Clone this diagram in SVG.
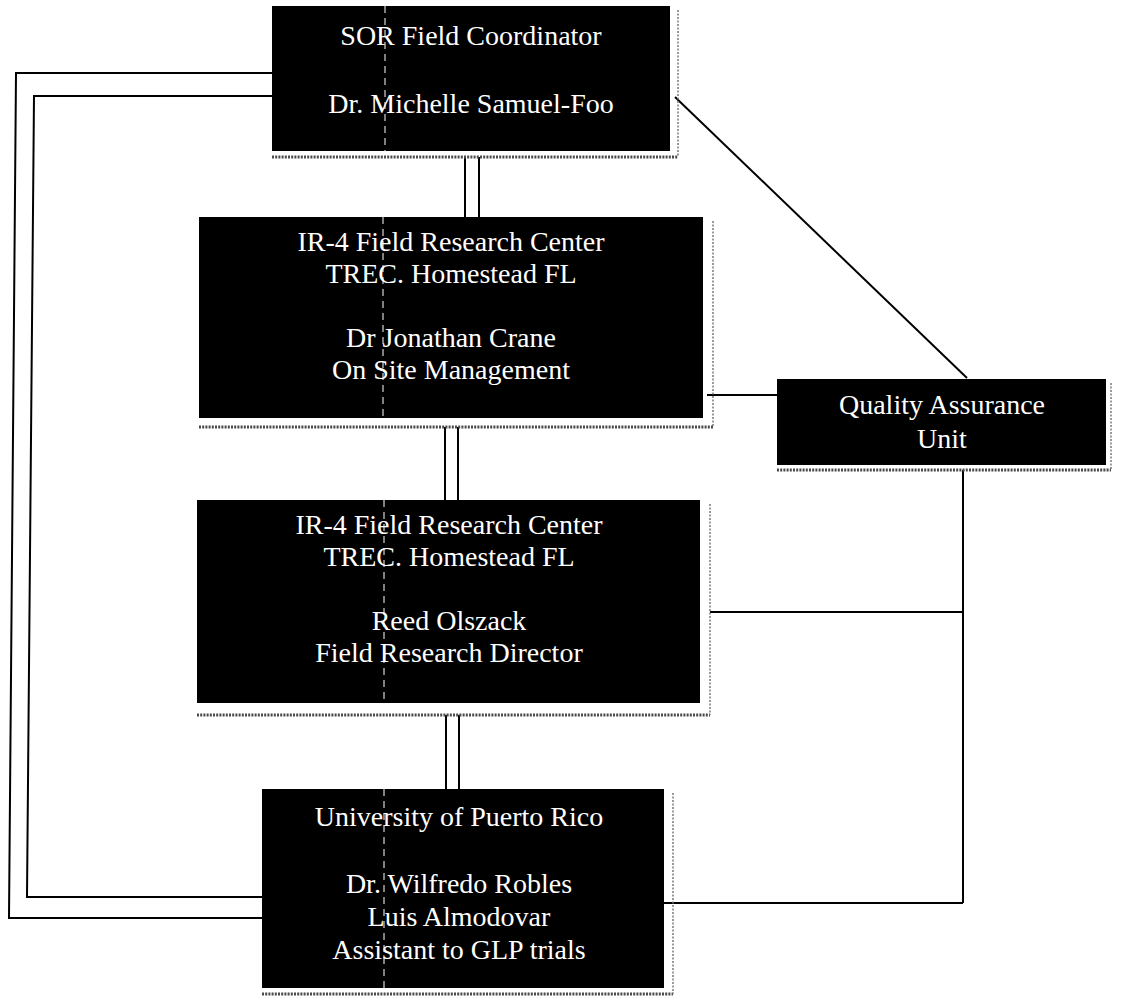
<svg xmlns="http://www.w3.org/2000/svg" width="1126" height="1002" viewBox="0 0 1126 1002">
<style>
.box{fill:#000}
.t{font-family:"Liberation Serif","Times New Roman",serif;font-size:28px;fill:#fff;text-anchor:middle}
.sh{fill:none;stroke:#4a4a4a;stroke-width:3;stroke-dasharray:2 1.2}
.shv{fill:none;stroke:#7a7a7a;stroke-width:1.5;stroke-dasharray:2 1.5}
.art{fill:none;stroke:#fff;stroke-width:1;stroke-dasharray:7 5}
.c{fill:none;stroke:#000;stroke-width:2}
</style>
<rect width="1126" height="1002" fill="#fff"/>
<g id="connectors">
<polyline class="c" points="272,73 16,73 9,918 262,918"/>
<polyline class="c" points="272,96 34,96 27,897 262,897"/>
<line class="c" x1="465" y1="157" x2="465" y2="217"/>
<line class="c" x1="479" y1="157" x2="479" y2="217"/>
<line class="c" x1="445" y1="427" x2="445" y2="500"/>
<line class="c" x1="458" y1="427" x2="458" y2="500"/>
<line class="c" x1="446" y1="715" x2="446" y2="789"/>
<line class="c" x1="459" y1="715" x2="459" y2="789"/>
<line class="c" x1="675" y1="97" x2="967" y2="378"/>
<line class="c" x1="707" y1="395" x2="777" y2="395"/>
<line class="c" x1="963" y1="470" x2="963" y2="903"/>
<line class="c" x1="710" y1="612" x2="963" y2="612"/>
<line class="c" x1="664" y1="903" x2="963" y2="903"/>
</g>
<g id="sor">
<rect class="box" x="272" y="6" width="398" height="145"/>
<line class="sh" x1="272" y1="157" x2="678" y2="157"/>
<line class="shv" x1="678" y1="10" x2="678" y2="157"/>
<line class="art" x1="385" y1="6" x2="385" y2="151"/>
<text class="t" x="471" y="45">SOR Field Coordinator</text>
<text class="t" x="471" y="113">Dr. Michelle Samuel-Foo</text>
</g>
<g id="ir4-crane">
<rect class="box" x="199" y="217" width="504" height="201"/>
<line class="sh" x1="199" y1="427" x2="713" y2="427"/>
<line class="shv" x1="713" y1="221" x2="713" y2="427"/>
<line class="art" x1="383" y1="217" x2="383" y2="418"/>
<text class="t" x="451" y="251">IR-4 Field Research Center</text>
<text class="t" x="451" y="283">TREC. Homestead FL</text>
<text class="t" x="451" y="347">Dr Jonathan Crane</text>
<text class="t" x="451" y="379">On Site Management</text>
</g>
<g id="qa">
<rect class="box" x="777" y="379" width="329" height="86"/>
<line class="sh" x1="777" y1="470" x2="1111" y2="470"/>
<line class="shv" x1="1111" y1="383" x2="1111" y2="470"/>
<text class="t" x="942" y="414">Quality Assurance</text>
<text class="t" x="942" y="448">Unit</text>
</g>
<g id="ir4-olszack">
<rect class="box" x="197" y="500" width="503" height="203"/>
<line class="sh" x1="197" y1="715" x2="710" y2="715"/>
<line class="shv" x1="710" y1="504" x2="710" y2="715"/>
<line class="art" x1="384" y1="500" x2="384" y2="703"/>
<text class="t" x="449" y="534">IR-4 Field Research Center</text>
<text class="t" x="449" y="566">TREC. Homestead FL</text>
<text class="t" x="449" y="630">Reed Olszack</text>
<text class="t" x="449" y="662">Field Research Director</text>
</g>
<g id="upr">
<rect class="box" x="262" y="789" width="402" height="199"/>
<line class="sh" x1="262" y1="994" x2="673" y2="994"/>
<line class="shv" x1="673" y1="793" x2="673" y2="994"/>
<line class="art" x1="384" y1="789" x2="384" y2="988"/>
<text class="t" x="459" y="826">University of Puerto Rico</text>
<text class="t" x="459" y="893">Dr. Wilfredo Robles</text>
<text class="t" x="459" y="926">Luis Almodovar</text>
<text class="t" x="459" y="959">Assistant to GLP trials</text>
</g>
</svg>
